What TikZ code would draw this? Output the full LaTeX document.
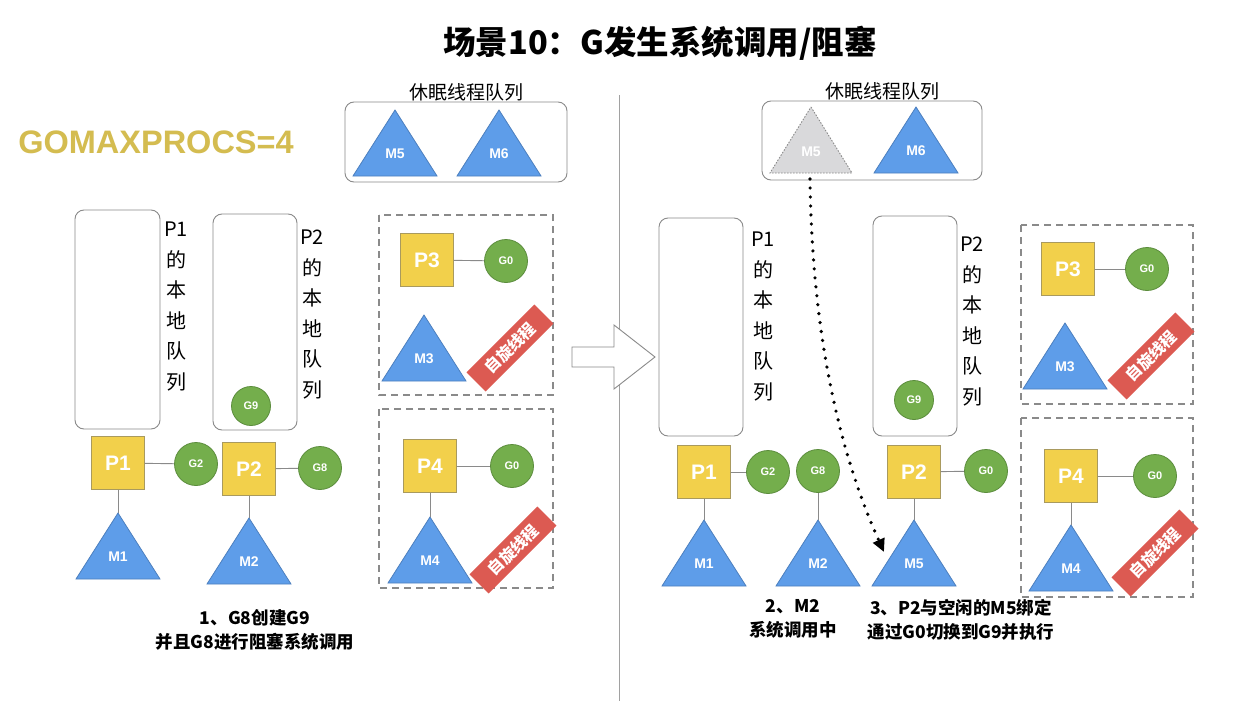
\documentclass[tikz,border=0pt]{standalone}
\usepackage{fontspec}
\setmainfont{Noto Sans CJK SC}
\newfontfamily\lat{Liberation Sans}
\usetikzlibrary{arrows.meta}
\definecolor{pyel}{HTML}{F2D04B}
\definecolor{pyelb}{HTML}{A99A5E}
\definecolor{mblue}{HTML}{5E9DE9}
\definecolor{mblueb}{HTML}{4C7FBE}
\definecolor{ggreen}{HTML}{74AE4C}
\definecolor{ggreenb}{HTML}{5B8C3C}
\definecolor{bred}{HTML}{DC5A52}
\definecolor{gold}{HTML}{D4BC50}
\definecolor{lgray}{HTML}{8A8A8A}
\definecolor{ghost}{HTML}{D9D9DB}
\newcommand\mtri[4]{% name, apex x, apex y, label
  \path[fill=mblue,draw=mblueb,line width=0.8pt] (#2,#3) -- (#2+42,#3+66) -- (#2-42,#3+66) -- cycle;
  \coordinate (#1top) at (#2,#3);
  \node[mlab] (#1) at (#2,#3+44) {#4};
}
\begin{document}
\begin{tikzpicture}[x=1pt,y=-1pt,
  pbox/.style={draw=pyelb,fill=pyel,minimum size=53pt,inner sep=0pt,line width=0.8pt,
    font=\lat\bfseries\fontsize{21}{21}\selectfont,text=white},
  gcirc/.style={circle,draw=ggreenb,fill=ggreen,minimum size=43pt,inner sep=0pt,line width=0.8pt,
    font=\lat\bfseries\fontsize{11}{11}\selectfont,text=white},
  mlab/.style={font=\lat\bfseries\fontsize{14}{14}\selectfont,text=white,inner sep=0pt},
  queue/.style={draw=lgray,rounded corners=9pt,line width=0.9pt},
  link/.style={draw=lgray,line width=0.9pt},
  dbox/.style={draw=lgray,dash pattern=on 7pt off 5pt,line width=1.1pt},
  banner/.style={fill=bred,text=white,rotate=45,font=\bfseries\fontsize{16}{16}\selectfont,
    minimum width=96pt,minimum height=27pt,inner sep=0pt},
  vlab/.style={align=center,font=\fontsize{20}{30.5}\selectfont,anchor=north,inner sep=0pt},
  captext/.style={align=center,font=\bfseries\fontsize{17.5}{24}\selectfont,inner sep=0pt},
  qlab/.style={font=\fontsize{19}{19}\selectfont,inner sep=0pt}
]
\useasboundingbox[fill=white] (0,0) rectangle (1240,701);

% title
\node[font=\bfseries\fontsize{32.5}{32.5}\selectfont,inner sep=0pt] (title) at (660,43) {场景10：G发生系统调用/阻塞};
\node[font=\lat\bfseries\fontsize{32.5}{32.5}\selectfont,text=gold,inner sep=0pt] (gmp) at (156,142) {GOMAXPROCS=4};

% divider
\coordinate (divtop) at (619,95);
\coordinate (divbot) at (619,701);
\draw[draw=lgray!80,line width=0.9pt] (divtop) -- (divbot);

% ================= LEFT =================
\node[qlab] (lsleeplab) at (466,92) {休眠线程队列};
\draw[queue] (345,102) rectangle (567,182);
\mtri{lM5}{395}{110}{M5}
\mtri{lM6}{499}{110}{M6}

% local queues
\draw[queue] (75,210) rectangle (160,429);
\node[vlab] (lq1) at (176,222) {P1\\的\\本\\地\\队\\列};
\draw[queue] (213,214) rectangle (297,430);
\node[gcirc,minimum size=39pt] (lG9) at (251,406) {G9};
\node[vlab] (lq2) at (312,230) {P2\\的\\本\\地\\队\\列};

\node[pbox] (lP1) at (118,463) {P1};
\node[gcirc] (lG2) at (196,464) {G2};
\node[pbox] (lP2) at (249,469) {P2};
\node[gcirc] (lG8) at (320,468) {G8};
\mtri{lM1}{118}{513}{M1}
\mtri{lM2}{249}{518}{M2}
\draw[link] (lP1) -- (lG2);
\draw[link] (lP2) -- (lG8);
\draw[link] (lP1.south) -- (lM1top);
\draw[link] (lP2.south) -- (lM2top);

\node[captext] (lcap) at (255,630) {1、G8创建G9\\并且G8进行阻塞系统调用};

% spinning boxes left
\draw[dbox] (379,215) rectangle (553,395);
\node[pbox] (lP3) at (427,260) {P3};
\node[gcirc] (lG0a) at (506,261) {G0};
\draw[link] (lP3) -- (lG0a);
\mtri{lM3}{424}{315}{M3}
\node[banner] (lb1) at (510,348) {自旋线程};

\draw[dbox] (379,409) rectangle (553,588);
\node[pbox] (lP4) at (430,466) {P4};
\node[gcirc] (lG0b) at (512,466) {G0};
\draw[link] (lP4) -- (lG0b);
\mtri{lM4}{430}{517}{M4}
\draw[link] (lP4.south) -- (lM4top);
\node[banner] (lb2) at (513,550) {自旋线程};

% big hollow arrow
\draw[draw=lgray,fill=white,line width=0.9pt,line join=miter]
  (572,347) -- (614,347) -- (614,325) -- (655,357) -- (614,389) -- (614,367) -- (572,367) -- cycle;

% ================= RIGHT =================
\node[qlab] (rsleeplab) at (882,91) {休眠线程队列};
\draw[queue] (762,101) rectangle (982,180);
\path[fill=ghost,draw=lgray,dash pattern=on 1.5pt off 1.5pt,line width=0.9pt]
  (811,107) -- (852,173) -- (770,173) -- cycle;
\node[mlab,text=white] (rM5ghost) at (811,152) {M5};
\coordinate (rM5bot) at (810,179);
\mtri{rM6}{916}{107}{M6}

\draw[queue] (659,218) rectangle (743,436);
\node[vlab] (rq1) at (763,232) {P1\\的\\本\\地\\队\\列};
\draw[queue] (873,216) rectangle (957,436);
\node[gcirc,minimum size=39pt] (rG9) at (914,400) {G9};
\node[vlab] (rq2) at (972,237) {P2\\的\\本\\地\\队\\列};

\node[pbox] (rP1) at (704,472) {P1};
\node[gcirc] (rG2) at (768,472) {G2};
\node[gcirc] (rG8) at (818,471) {G8};
\node[pbox] (rP2) at (914,472) {P2};
\node[gcirc] (rG0) at (986,471) {G0};
\draw[link] (rP1) -- (rG2);
\draw[link] (rP2) -- (rG0);
\mtri{rM1}{704}{520}{M1}
\mtri{rM2}{818}{520}{M2}
\mtri{rM5}{914}{520}{M5}
\draw[link] (rP1.south) -- (rM1top);
\draw[link] (rG8.south) -- (rM2top);
\draw[link] (rP2.south) -- (rM5top);

\coordinate (arrend) at (884,552);
\draw[line width=3.6pt,line cap=round,dash pattern=on 0pt off 9pt,
  -{Triangle[length=13pt,width=12pt,line cap=butt]}]
  (rM5bot) .. controls (812,330) and (838,450) .. (arrend);

\node[captext] (rcap2) at (793,619) {2、M2\\系统调用中};
\node[captext] (rcap3) at (961,620) {3、P2与空闲的M5绑定\\通过G0切换到G9并执行};

% spinning boxes right
\draw[dbox] (1021,225) rectangle (1193,404);
\node[pbox] (rP3) at (1068,269) {P3};
\node[gcirc] (rG0a) at (1147,269) {G0};
\draw[link] (rP3) -- (rG0a);
\mtri{rM3}{1065}{323}{M3}
\node[banner] (rb1) at (1151,356) {自旋线程};

\draw[dbox] (1021,418) rectangle (1193,597);
\node[pbox] (rP4) at (1071,476) {P4};
\node[gcirc] (rG0b) at (1155,476) {G0};
\draw[link] (rP4) -- (rG0b);
\mtri{rM4}{1071}{525}{M4}
\draw[link] (rP4.south) -- (rM4top);
\node[banner] (rb2) at (1155,553) {自旋线程};
\end{tikzpicture}
\end{document}
